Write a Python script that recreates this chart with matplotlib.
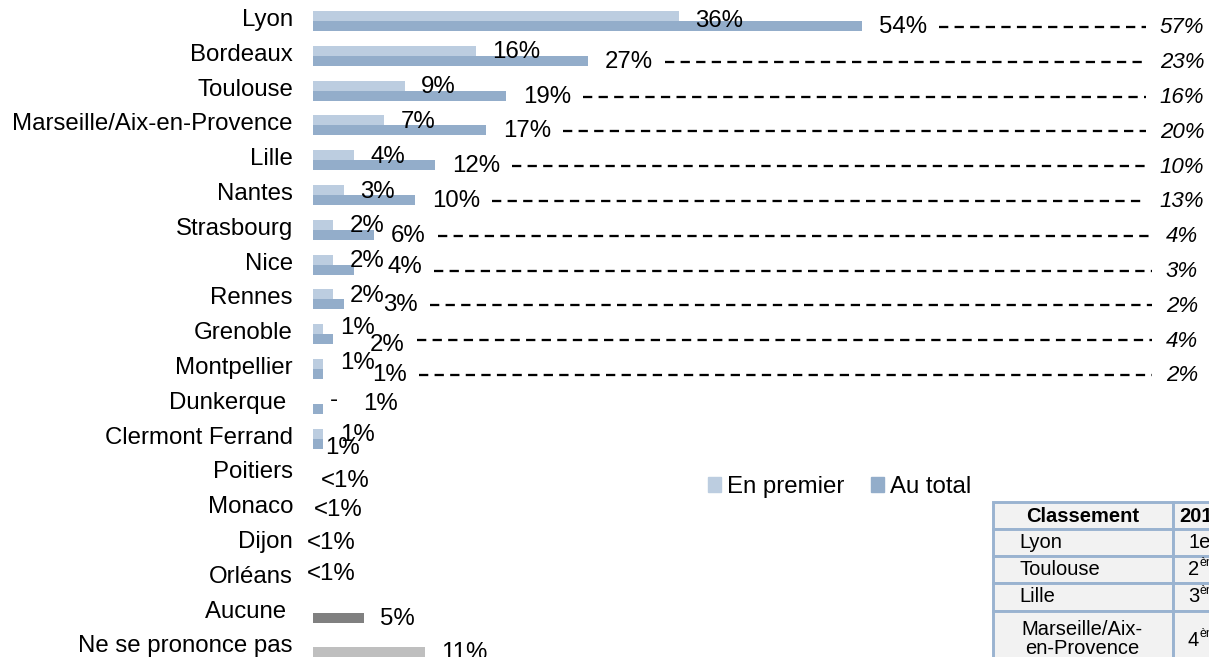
import numpy as np
import matplotlib
matplotlib.use("Agg")
import matplotlib.pyplot as plt
from matplotlib.patches import Rectangle, Patch

plt.rcParams["font.family"] = ["Liberation Sans", "DejaVu Sans"]

# ── data ───────────────────────────────────────────────────────────────────
cities = ["Lyon", "Bordeaux", "Toulouse", "Marseille/Aix-en-Provence", "Lille",
          "Nantes", "Strasbourg", "Nice", "Rennes", "Grenoble", "Montpellier",
          "Dunkerque ", "Clermont Ferrand"]
en_premier = [36, 16, 9, 7, 4, 3, 2, 2, 2, 1, 1, 0, 1]
au_total = [54, 27, 19, 17, 12, 10, 6, 4, 3, 2, 1, 1, 1]
premier_labels = ["36%", "16%", "9%", "7%", "4%", "3%", "2%", "2%", "2%",
                  "1%", "1%", "-", "1%"]
total_labels = ["54%", "27%", "19%", "17%", "12%", "10%", "6%", "4%", "3%",
                "2%", "1%", "1%", "1%"]
# italic column on the right (previous wave), first 11 cities only
previous = ["57%", "23%", "16%", "20%", "10%", "13%", "4%", "3%", "2%", "4%", "2%"]

small_cities = ["Poitiers", "Monaco", "Dijon", "Orléans"]
small_labels = ["<1%", "<1%", "<1%", "<1%"]

other_cats = ["Aucune ", "Ne se prononce pas"]
other_values = [5, 11]
other_labels = ["5%", "11%"]

table_header = ["Classement", "2014"]
table_cities = ["Lyon", "Toulouse", "Lille", "Marseille/Aix-\nen-Provence"]
table_ranks = [("1er", ""), ("2", "ème"), ("3", "ème"), ("4", "ème")]

C_FIRST = "#bccde0"
C_TOTAL = "#93adca"
C_OTHER = ["#808080", "#bfbfbf"]

# ── layout (slide pixels) ──────────────────────────────────────────────────
W, H = 1209, 657
X0 = 313            # bar baseline
PX = 10.17          # pixels per percent
Y0, ROW = 21, 34.8  # first row centre, row pitch
FS = 17.3

fig = plt.figure(figsize=(W / 100, H / 100), dpi=100)
ax = fig.add_axes([X0 / W, 0, 1 - X0 / W, 1])
ax.set_xlim(0, (W - X0) / PX)
ax.set_ylim((H - Y0) / ROW, -Y0 / ROW)
ax.axis("off")

def px(p):
    return p / PX

rows = np.arange(len(cities))
ax.barh(rows - 0.143, en_premier, height=0.287, color=C_FIRST, lw=0)
ax.barh(rows + 0.143, au_total, height=0.287, color=C_TOTAL, lw=0)

n_main = len(cities)
small_rows = np.arange(len(small_cities)) + n_main
other_rows = np.arange(len(other_cats)) + n_main + len(small_cities)
ax.barh(other_rows + 0.143, other_values, height=0.287, color=C_OTHER, lw=0)

# category labels
for r, name in zip(list(rows) + list(small_rows) + list(other_rows),
                   cities + small_cities + other_cats):
    ax.text(-px(20), r - 0.03, name, ha="right", va="center", fontsize=FS,
            clip_on=False)

# value labels; PowerPoint nudged the small ones by hand
total_nudge = {"Nice": (7.35, 0.07), "Rennes": (6.9, 0.16), "Grenoble": (5.6, 0.31),
               "Montpellier": (5.8, 0.17), "Dunkerque ": (4.9, 0.0),
               "Clermont Ferrand": (1.2, 0.27)}
first_dy = {"Lyon": 0.0, "Grenoble": -0.18, "Montpellier": -0.17}
total_texts = []
for r, name, f, t, fl, tl in zip(rows, cities, en_premier, au_total,
                                 premier_labels, total_labels):
    ax.text(f + px(16.5), r + first_dy.get(name, -0.1), fl, ha="left",
            va="center", fontsize=FS)
    tx, dy = total_nudge.get(name, (t + px(17), 0.17))
    total_texts.append(ax.text(tx, r + dy, tl, ha="left", va="center", fontsize=FS))

small_pos = [(0.8, 0.22), (0.1, 0.05), (-0.6, 0.0), (-0.6, -0.1)]
for r, lab, (sx, sy) in zip(small_rows, small_labels, small_pos):
    ax.text(sx, r + sy, lab, ha="left", va="center", fontsize=FS)

for r, v, lab in zip(other_rows, other_values, other_labels):
    ax.text(v + px(16.5), r + 0.17, lab, ha="left", va="center", fontsize=FS)

# italic previous-wave column + dashed leaders
prev_texts = []
for r, lab in zip(rows, previous):
    prev_texts.append(ax.text(px(1182 - X0), r + 0.2, lab, ha="center", va="center",
                              fontsize=16, style="italic"))

fig.canvas.draw()
rend = fig.canvas.get_renderer()
inv = ax.transData.inverted()
for r, tt, pt in zip(rows, total_texts, prev_texts):
    x_start = inv.transform((tt.get_window_extent(rend).x1 + 12, 0))[0]
    x_end = inv.transform((pt.get_window_extent(rend).x0 - 14, 0))[0]
    ax.plot([x_start, x_end], [r + 0.17, r + 0.17], color="black", lw=1.65,
            ls=(0, (4.05, 2.75)))

# legend
handles = [Patch(color=C_FIRST), Patch(color=C_TOTAL)]
fig.legend(handles, ["En premier", "Au total"], loc="center left",
           bbox_to_anchor=(708 / W, 1 - 487 / H), ncol=2, frameon=False,
           fontsize=FS, handlelength=0.55, handleheight=0.55, handletextpad=0.25,
           columnspacing=1.1, borderpad=0, borderaxespad=0)

# ranking table, cut by the slide edge
tab = fig.add_axes([0, 0, 1, 1])
tab.set_xlim(0, W)
tab.set_ylim(H, 0)
tab.axis("off")
col_x = [993, 1173, 1320]
row_y = [502, 529, 556, 583, 611, 690]
for i in range(len(row_y) - 1):
    for j in range(len(col_x) - 1):
        tab.add_patch(Rectangle((col_x[j], row_y[i]), col_x[j + 1] - col_x[j],
                                row_y[i + 1] - row_y[i], facecolor="#f2f2f2",
                                edgecolor="#9ab3d0", lw=2.1))
tab.text((col_x[0] + col_x[1]) / 2, 516, table_header[0], ha="center", va="center",
         fontsize=14.5, weight="bold")
tab.text(1179, 516, table_header[1], ha="left", va="center", fontsize=14.5,
         weight="bold")
for i, (city, (num, sup)) in enumerate(zip(table_cities, table_ranks)):
    yc = (row_y[i + 1] + row_y[i + 2]) / 2 if i < 3 else 640
    if "\n" in city:
        tab.text(1082, yc - 1, city, ha="center", va="center", fontsize=14.5,
                 linespacing=0.95)
    else:
        tab.text(1019, yc, city, ha="left", va="center", fontsize=14.5)
    tab.text(1188, yc, num, ha="left", va="center", fontsize=14.5)
    if sup:
        tab.text(1200, yc - 6, sup, ha="left", va="center", fontsize=9)

fig.savefig("out.png", dpi=100)
